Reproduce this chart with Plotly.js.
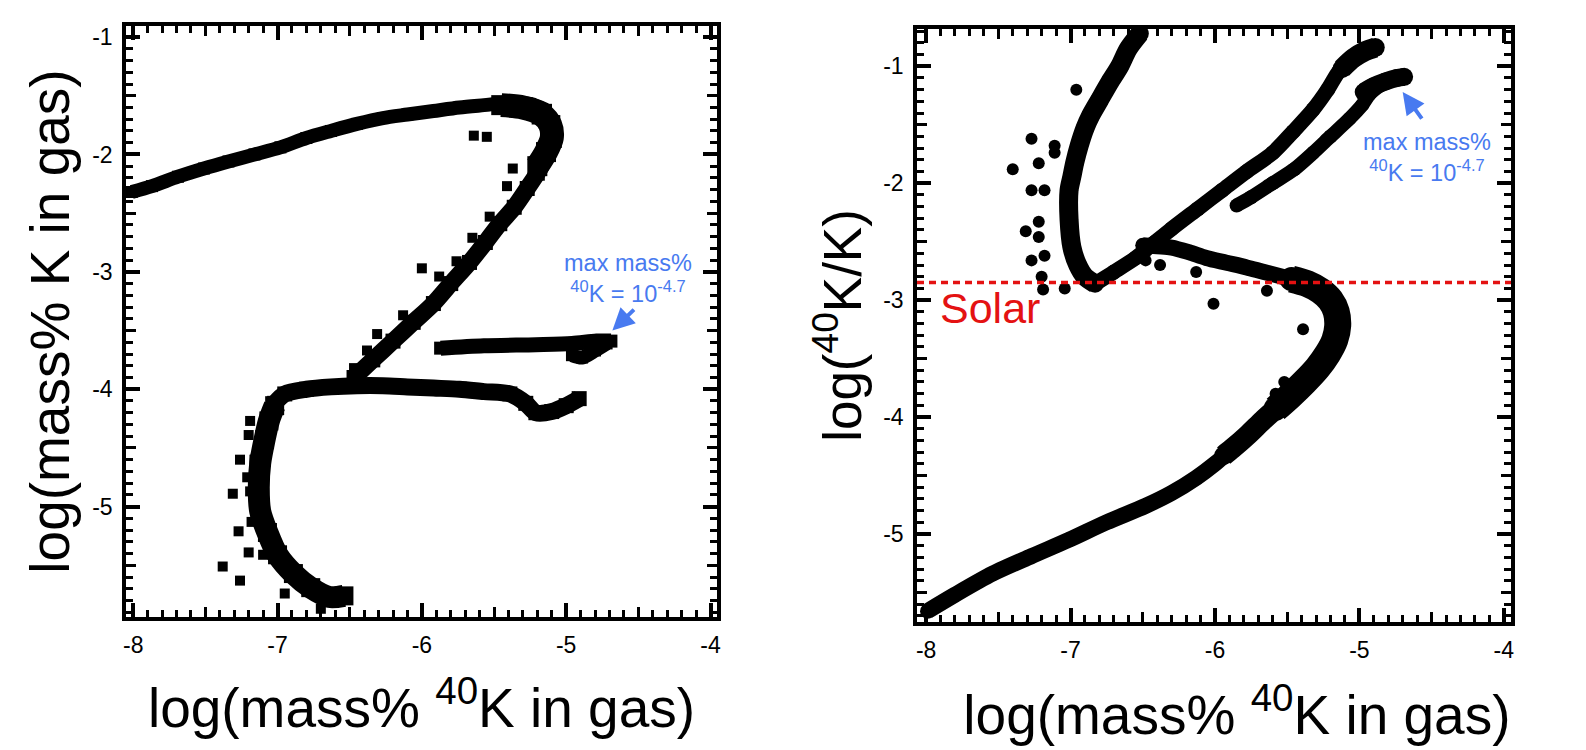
<!DOCTYPE html>
<html>
<head>
<meta charset="utf-8">
<script src="https://cdn.plot.ly/plotly-3.0.1.min.js"></script>
<style>html,body{margin:0;padding:0;background:#fff;}#chart{width:1586px;height:750px;}</style>
</head>
<body>
<div id="chart"></div>
<script>
// ---------- LEFT PANEL: log(mass% K in gas) vs log(mass% 40K in gas) ----------
const upX = [-8.01,-7.87,-7.69,-7.51,-7.34,-7.16,-6.98,-6.80,-6.63,-6.45,-6.27,-6.10,-5.92,-5.74,-5.57,-5.39,-5.25,-5.14];
const upY = [-2.32,-2.27,-2.19,-2.12,-2.06,-2.00,-1.94,-1.86,-1.80,-1.74,-1.69,-1.66,-1.63,-1.60,-1.58,-1.56,-1.57,-1.62];
const turnX = [-5.45,-5.30,-5.17,-5.11,-5.10,-5.14,-5.20];
const turnY = [-1.58,-1.60,-1.66,-1.75,-1.86,-1.98,-2.10];
const diagX = [-5.10,-5.14,-5.20,-5.27,-5.36,-5.46,-5.56,-5.67,-5.80,-5.92,-6.06,-6.20,-6.34,-6.47];
const diagY = [-1.86,-2.00,-2.16,-2.29,-2.45,-2.59,-2.75,-2.92,-3.10,-3.27,-3.43,-3.59,-3.75,-3.90];
const lowX = [-7.02,-6.95,-6.80,-6.63,-6.45,-6.27,-6.10,-5.92,-5.74,-5.57,-5.39,-5.28,-5.21,-5.10,-5.00,-4.91];
const lowY = [-4.12,-4.04,-4.00,-3.98,-3.97,-3.97,-3.98,-3.99,-4.00,-4.02,-4.04,-4.12,-4.20,-4.19,-4.14,-4.08];
const curveX = [-7.02,-7.06,-7.09,-7.12,-7.13,-7.12,-7.07,-7.00,-6.89,-6.77,-6.64,-6.54];
const curveY = [-4.14,-4.27,-4.43,-4.63,-4.84,-5.04,-5.22,-5.41,-5.57,-5.69,-5.77,-5.76];
const maxLX = [-5.87,-5.57,-5.21,-4.96,-4.79,-4.69];
const maxLY = [-3.65,-3.63,-3.62,-3.61,-3.59,-3.59];
const maxLEndX = [-4.96,-4.89,-4.80,-4.72];
const maxLEndY = [-3.71,-3.73,-3.67,-3.61];
const outLX = [-5.64,-5.55,-5.37,-5.41,-5.53,-5.65,-5.76,-6.00,-5.88,-6.13,-6.31,-6.38,-6.47,
               -7.19,-7.20,-7.26,-7.16,-7.21,-7.31,-7.19,-7.18,-7.27,-7.38,-7.20,-7.10,-7.26,-6.95,-7.10,-7.12,-6.70];
const outLY = [-1.84,-1.85,-2.12,-2.27,-2.53,-2.71,-2.91,-2.97,-3.04,-3.37,-3.53,-3.67,-3.82,
               -4.27,-4.39,-4.60,-4.60,-4.75,-4.89,-4.87,-5.13,-5.21,-5.51,-5.39,-5.41,-5.63,-5.74,-4.41,-4.51,-5.87];

// ---------- RIGHT PANEL: log(40K/K) vs log(mass% 40K in gas) ----------
const lineX = [-7.99,-7.80,-7.54,-7.27,-7.01,-6.75,-6.48,-6.30,-6.13,-6.00,-5.88];
const lineY = [-5.66,-5.52,-5.34,-5.19,-5.05,-4.90,-4.76,-4.65,-4.52,-4.40,-4.27];
const midX = [-5.94,-5.88,-5.77,-5.67,-5.58];
const midY = [-4.33,-4.27,-4.15,-4.03,-3.93];
const bulgeX = [-5.58,-5.48,-5.38,-5.29,-5.22,-5.17,-5.15,-5.16,-5.20,-5.27,-5.36,-5.47];
const bulgeY = [-3.93,-3.82,-3.70,-3.58,-3.46,-3.34,-3.22,-3.10,-3.00,-2.92,-2.86,-2.82];
const armX = [-5.50,-5.66,-5.78,-5.92,-6.06,-6.18,-6.30,-6.40,-6.50];
const armY = [-2.81,-2.76,-2.72,-2.68,-2.64,-2.59,-2.55,-2.54,-2.53];
const vlX = [-6.52,-6.60,-6.66,-6.73,-6.80,-6.86,-6.90,-6.94,-6.97,-6.99,-7.01,-7.01,-6.99,-6.95,-6.90,-6.83];
const vlY = [-0.72,-0.85,-1.00,-1.14,-1.29,-1.42,-1.53,-1.68,-1.82,-1.94,-2.06,-2.31,-2.55,-2.70,-2.80,-2.86];
const vrX = [-6.83,-6.70,-6.55,-6.42,-6.30,-6.12,-5.95,-5.78,-5.60,-5.46,-5.32,-5.22,-5.14,-5.04,-4.95,-4.88];
const vrY = [-2.86,-2.76,-2.64,-2.51,-2.39,-2.22,-2.06,-1.90,-1.74,-1.56,-1.37,-1.20,-1.04,-0.92,-0.86,-0.84];
const vrEndX = [-5.12,-5.04,-4.96,-4.89];
const vrEndY = [-1.02,-0.93,-0.87,-0.84];
const maxRX = [-5.85,-5.75,-5.60,-5.45,-5.32,-5.20,-5.07,-4.98,-4.93,-4.85,-4.79,-4.73,-4.69];
const maxRY = [-2.19,-2.12,-2.00,-1.88,-1.74,-1.60,-1.45,-1.33,-1.24,-1.16,-1.12,-1.10,-1.08];
const maxREndX = [-4.97,-4.90,-4.82,-4.74,-4.69];
const maxREndY = [-1.22,-1.17,-1.13,-1.10,-1.09];
const outRX = [-7.40,-7.27,-7.22,-7.27,-7.18,-7.22,-7.31,-7.22,-7.27,-7.18,-7.20,-7.19,-7.11,-7.11,-6.96,-7.04,-6.01,-6.48,-6.38,-6.13,-5.64,-5.39,-5.52,-5.58];
const outRY = [-1.88,-1.62,-1.83,-2.06,-2.06,-2.33,-2.41,-2.46,-2.66,-2.62,-2.80,-2.91,-1.68,-1.74,-1.20,-2.90,-3.03,-2.66,-2.70,-2.76,-2.92,-3.25,-3.70,-3.80];

const solarLevel = -2.85;

// tick labels (hyphen minus, as in the original)
const xTickVals = [-8, -7, -6, -5, -4];
const xTickText = ['-8', '-7', '-6', '-5', '-4'];
const yTickVals = [-5, -4, -3, -2, -1];
const yTickText = ['-5', '-4', '-3', '-2', '-1'];
const xTitleL = 'log(mass% <sup>40</sup>K in gas)';
const xTitleR = '&nbsp;&nbsp;&nbsp;log(mass% <sup>40</sup>K in gas)';
const yTitleLeft = 'log(mass% K in gas)';
const yTitleRight = 'log(<sup>40</sup>K/K)';

const BLK = '#000000';
const BLUE = 'rgb(72,122,240)';
const RED = 'rgb(228,18,18)';
const FONT = 'Liberation Sans, Arial, Helvetica, sans-serif';

function band(x, y, xa, ya, w, sym, ms) {
  return {x: x, y: y, xaxis: xa, yaxis: ya, type: 'scatter', mode: 'lines+markers',
    line: {color: BLK, width: w, shape: 'spline', smoothing: 0.8},
    marker: {color: BLK, symbol: sym, size: ms}, hoverinfo: 'skip'};
}
function dots(x, y, xa, ya, sym, ms) {
  return {x: x, y: y, xaxis: xa, yaxis: ya, type: 'scatter', mode: 'markers',
    marker: {color: BLK, symbol: sym, size: ms}, hoverinfo: 'skip'};
}
function ghost(xa, ya) {
  return {x: [-6], y: [-3], xaxis: xa, yaxis: ya, type: 'scatter', mode: 'markers',
    marker: {size: 1, opacity: 0}, hoverinfo: 'skip'};
}

const traces = [
  band(upX, upY, 'x', 'y', 14, 'square', 12),
  band(turnX, turnY, 'x', 'y', 24, 'square', 20),
  band(diagX, diagY, 'x', 'y', 17, 'square', 15),
  band(lowX, lowY, 'x', 'y', 17, 'square', 15),
  band(curveX, curveY, 'x', 'y', 22, 'square', 19),
  band(maxLX, maxLY, 'x', 'y', 15, 'square', 13),
  band(maxLEndX, maxLEndY, 'x', 'y', 14, 'square', 12),
  dots(outLX, outLY, 'x', 'y', 'square', 10),
  band(lineX, lineY, 'x2', 'y2', 16, 'circle', 15),
  band(midX, midY, 'x2', 'y2', 21, 'circle', 19),
  band(bulgeX, bulgeY, 'x2', 'y2', 27, 'circle', 24),
  band(armX, armY, 'x2', 'y2', 16, 'circle', 15),
  band(vlX, vlY, 'x2', 'y2', 19, 'circle', 18),
  band(vrX, vrY, 'x2', 'y2', 15, 'circle', 15),
  band(vrEndX, vrEndY, 'x2', 'y2', 20, 'circle', 19),
  band(maxRX, maxRY, 'x2', 'y2', 14, 'circle', 14),
  band(maxREndX, maxREndY, 'x2', 'y2', 18, 'circle', 18),
  dots(outRX, outRY, 'x2', 'y2', 'circle', 12),
  ghost('x3', 'y3'), ghost('x4', 'y4')
];

const tickFont = {family: FONT, size: 23, color: BLK};

function mainAxis(domain, range, anchor, vals, text, title, tsize, standoff) {
  return {domain: domain, range: range, anchor: anchor, tickmode: 'array', tickvals: vals, ticktext: text,
    ticks: 'inside', ticklen: 14, tickwidth: 3.5, tickcolor: BLK,
    showline: true, linewidth: 3.5, linecolor: BLK, mirror: 'allticks',
    showgrid: false, zeroline: false, tickfont: tickFont, ticklabelstandoff: 5,
    minor: {ticks: 'inside', tickmode: 'linear', dtick: 0.1, tick0: 0, ticklen: 7, tickwidth: 3, tickcolor: BLK, showgrid: false},
    title: {text: title, font: {family: FONT, size: tsize, color: BLK}, standoff: standoff}};
}
function halfAxis(over, range, anchor) {
  return {overlaying: over, range: range, anchor: anchor, tickmode: 'linear', dtick: 1, tick0: 0.5,
    ticks: 'inside', ticklen: 10, tickwidth: 3, tickcolor: BLK, showticklabels: false,
    showline: false, mirror: 'allticks', showgrid: false, zeroline: false};
}

const xL = [-8.05, -3.955], yL = [-5.94, -0.906];
const xR = [-8.063, -3.95], yR = [-5.753, -0.681];
const domXL = [126/1586, 717/1586], domYL = [1 - 617/750, 1 - 26/750];
const domXR = [917/1586, 1511/1586], domYR = [1 - 622/750, 1 - 29/750];

const layout = {
  width: 1586, height: 750, margin: {l: 0, r: 0, t: 0, b: 0},
  paper_bgcolor: '#fff', plot_bgcolor: 'rgba(0,0,0,0)', showlegend: false,
  font: {family: FONT, color: BLK},
  xaxis: mainAxis(domXL, xL, 'y', xTickVals, xTickText, xTitleL, 55, 32),
  yaxis: mainAxis(domYL, yL, 'x', yTickVals, yTickText, yTitleLeft, 55, 6),
  xaxis2: mainAxis(domXR, xR, 'y2', xTickVals, xTickText, xTitleR, 55, 34),
  yaxis2: mainAxis(domYR, yR, 'x2', yTickVals, yTickText, yTitleRight, 53, 6),
  xaxis3: halfAxis('x', xL, 'y3'),
  yaxis3: halfAxis('y', yL, 'x3'),
  xaxis4: halfAxis('x2', xR, 'y4'),
  yaxis4: halfAxis('y2', yR, 'x4'),
  shapes: [{type: 'line', xref: 'x2 domain', x0: 0, x1: 1, yref: 'y2', y0: solarLevel, y1: solarLevel,
    line: {color: RED, width: 3.5, dash: '7px,5px'}, layer: 'above'}],
  annotations: [
    {xref: 'x2', yref: 'y2', x: -7.56, y: -3.07, text: 'Solar', showarrow: false,
     font: {family: FONT, size: 43, color: RED}},
    {xref: 'x', yref: 'y', x: -4.57, y: -3.06, text: 'max mass%<br><sup>40</sup>K = 10<sup>-4.7</sup>', showarrow: false,
     font: {family: FONT, size: 23.5, color: BLUE}},
    {xref: 'x', yref: 'y', x: -4.68, y: -3.50, axref: 'x', ayref: 'y', ax: -4.52, ay: -3.31, text: '', showarrow: true,
     arrowhead: 2, arrowsize: 1.1, arrowwidth: 4, arrowcolor: BLUE},
    {xref: 'x2', yref: 'y2', x: -4.53, y: -1.78, text: 'max mass%<br><sup>40</sup>K = 10<sup>-4.7</sup>', showarrow: false,
     font: {family: FONT, size: 23.5, color: BLUE}},
    {xref: 'x2', yref: 'y2', x: -4.70, y: -1.22, axref: 'x2', ayref: 'y2', ax: -4.56, ay: -1.46, text: '', showarrow: true,
     arrowhead: 2, arrowsize: 1.1, arrowwidth: 4, arrowcolor: BLUE}
  ]
};

Plotly.newPlot('chart', traces, layout, {displayModeBar: false});
</script>
</body>
</html>
